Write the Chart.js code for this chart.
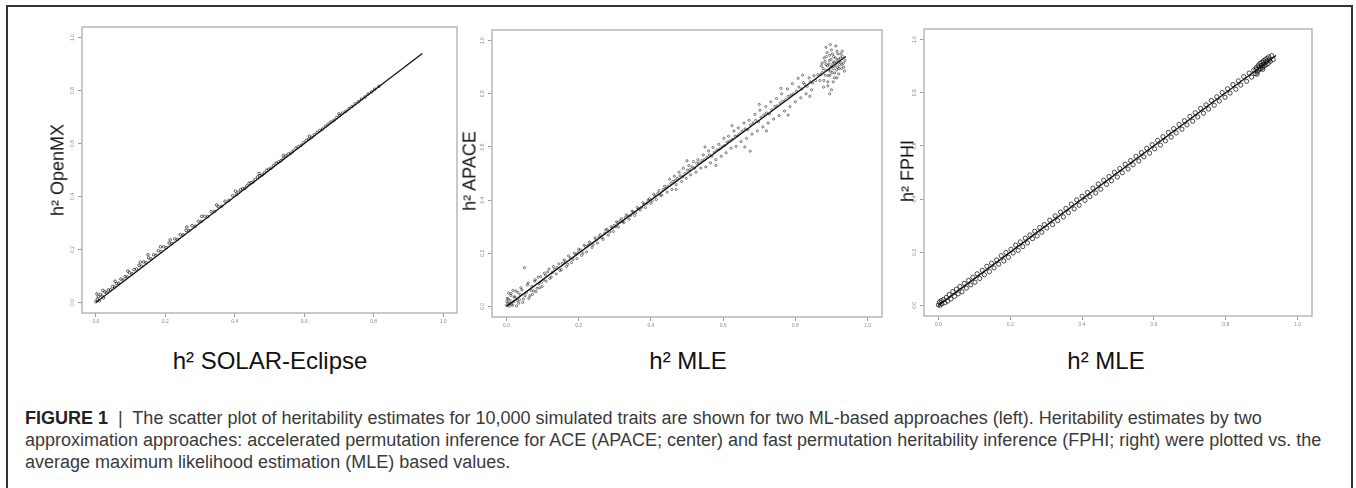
<!DOCTYPE html>
<html>
<head>
<meta charset="utf-8">
<script src="https://cdn.jsdelivr.net/npm/chart.js@4.4.0/dist/chart.umd.min.js"></script>
<style>
  body { margin: 0; background: #fff; font-family: "Liberation Sans", Arial, sans-serif; }
  #fig { position: relative; width: 1356px; height: 488px; overflow: hidden; }
  #frame { position: absolute; left: 6px; top: 5px; width: 1347px; height: 500px; border: 2px solid #333; border-bottom: none; box-sizing: border-box; }
  canvas { position: absolute; }
  .ytitle { position: absolute; font-size: 18px; color: #111; white-space: nowrap; transform: translate(-50%, -50%) rotate(-90deg); }
  .xtitle { position: absolute; font-size: 24px; color: #111; white-space: nowrap; transform: translate(-50%, -50%); }
  #caption { position: absolute; left: 25px; top: 407px; font-size: 18px; line-height: 22px; color: #3a3a3a; white-space: nowrap; }
  #caption b { color: #222; }
</style>
</head>
<body>
<div id="fig">
  <div id="frame"></div>

  <canvas id="openmxChart"></canvas>
  <canvas id="apaceChart"></canvas>
  <canvas id="fphiChart"></canvas>

  <div class="ytitle" style="left:58px; top:170px;">h² OpenMX</div>
  <div class="ytitle" style="left:470px; top:171px;">h² APACE</div>
  <div class="ytitle" style="left:908px; top:171px;">h² FPHI</div>

  <div class="xtitle" style="left:270px; top:361px;">h² SOLAR-Eclipse</div>
  <div class="xtitle" style="left:688px; top:361px;">h² MLE</div>
  <div class="xtitle" style="left:1106px; top:361px;">h² MLE</div>

  <div id="caption"><b>FIGURE 1</b>&nbsp; |&nbsp; The scatter plot of heritability estimates for 10,000 simulated traits are shown for two ML-based approaches (left). Heritability estimates by two<br>approximation approaches: accelerated permutation inference for ACE (APACE; center) and fast permutation heritability inference (FPHI; right) were plotted vs. the<br>average maximum likelihood estimation (MLE) based values.</div>
</div>

<script>
// Axis ticks shared by all three panels
const tickValues = [0, 0.2, 0.4, 0.6, 0.8, 1.0];

// Fitted line end points (same for every panel)
const lineX = [0, 0.94];
const lineY = [0, 0.94];

// Left panel: OpenMX vs SOLAR-Eclipse
const openmxPts = [
  [0.000,0.003],[0.004,0.012],[0.007,0.021],[0.010,0.006],[0.013,0.030],[0.018,0.024],[0.022,0.017],[0.026,0.040],
  [0.031,0.036],[0.036,0.047],[0.042,0.048],[0.048,0.060],[0.054,0.058],[0.060,0.071],[0.066,0.073],[0.072,0.088],
  [0.078,0.084],[0.084,0.097],[0.090,0.096],[0.097,0.112],[0.104,0.108],[0.110,0.124],[0.117,0.126],[0.124,0.140],
  [0.131,0.137],[0.138,0.153],[0.145,0.150],[0.152,0.168],[0.159,0.164],[0.166,0.180],[0.173,0.178],[0.180,0.195],
  [0.188,0.192],[0.195,0.210],[0.203,0.207],[0.211,0.224],[0.219,0.222],[0.227,0.240],[0.235,0.238],[0.243,0.256],
  [0.251,0.255],[0.260,0.272],[0.268,0.271],[0.277,0.290],[0.286,0.288],[0.295,0.306],[0.304,0.306],[0.313,0.325],
  [0.322,0.324],[0.332,0.343],[0.342,0.344],[0.352,0.362],[0.362,0.363],[0.372,0.382],[0.383,0.385],[0.394,0.403],
  [0.405,0.407],[0.417,0.426],[0.429,0.431],[0.441,0.450],[0.453,0.455],[0.466,0.474],[0.479,0.481],[0.492,0.499],
  [0.505,0.507],[0.519,0.526],[0.533,0.535],[0.547,0.553],[0.561,0.563],[0.576,0.582],[0.591,0.593],[0.606,0.611],
  [0.621,0.623],[0.637,0.642],[0.653,0.655],[0.669,0.673],[0.686,0.688],[0.703,0.706],[0.720,0.722],[0.738,0.740],
  [0.756,0.758],[0.775,0.776],[0.794,0.795],
  [0.411,0.416],[0.423,0.429],[0.435,0.440],[0.447,0.452],[0.459,0.465],[0.472,0.478],[0.485,0.489],[0.498,0.503],
  [0.512,0.517],[0.526,0.530],[0.540,0.544],[0.554,0.560],[0.568,0.572],[0.583,0.588],[0.598,0.603],[0.613,0.617],
  [0.629,0.633],[0.645,0.649],[0.661,0.665],[0.677,0.681],[0.694,0.698],[0.711,0.715],[0.729,0.732],[0.747,0.750],
  [0.765,0.768],[0.784,0.787],[0.803,0.805],[0.815,0.816],
  [0.003,0.032],[0.020,0.045],[0.055,0.080],[0.092,0.118],[0.128,0.152],[0.150,0.180],[0.186,0.210],[0.214,0.236],
  [0.262,0.285],[0.305,0.325],[0.348,0.368],[0.402,0.420],[0.470,0.487],[0.540,0.555],[0.615,0.628],[0.700,0.712]
];

// Centre panel: APACE vs MLE
const apacePts = [
  [0.000,0.004],[0.002,0.030],[0.004,0.012],[0.006,0.050],[0.008,0.000],[0.010,0.022],[0.012,0.041],[0.015,0.008],
  [0.018,0.060],[0.020,0.018],[0.024,0.035],[0.028,0.002],[0.032,0.052],[0.036,0.025],[0.040,0.070],[0.045,0.015],
  [0.050,0.146],[0.052,0.040],[0.058,0.080],[0.062,0.030],[0.068,0.060],[0.072,0.045],[0.078,0.095],[0.082,0.055],
  [0.088,0.110],[0.092,0.070],[0.097,0.090],
  [0.105,0.125],[0.110,0.095],[0.118,0.140],[0.124,0.110],[0.130,0.150],[0.138,0.122],[0.145,0.160],[0.152,0.138],
  [0.160,0.175],[0.166,0.150],[0.172,0.190],[0.180,0.165],[0.188,0.200],[0.195,0.180],[0.200,0.215],[0.208,0.192],
  [0.215,0.230],[0.222,0.205],[0.230,0.242],[0.237,0.222],[0.245,0.258],[0.252,0.238],[0.260,0.270],[0.268,0.252],
  [0.275,0.288],[0.282,0.268],[0.290,0.300],[0.296,0.282],
  [0.305,0.318],[0.310,0.298],[0.318,0.330],[0.325,0.315],[0.332,0.345],[0.340,0.328],[0.348,0.358],[0.355,0.342],
  [0.362,0.372],[0.370,0.362],[0.378,0.390],[0.385,0.372],[0.392,0.400],[0.400,0.388],[0.408,0.422],[0.415,0.402],
  [0.422,0.436],[0.430,0.418],[0.438,0.452],[0.445,0.430],
  [0.452,0.478],[0.458,0.440],[0.465,0.490],[0.470,0.458],[0.478,0.505],[0.485,0.470],[0.490,0.520],[0.498,0.482],
  [0.505,0.530],[0.510,0.495],[0.518,0.545],[0.525,0.505],[0.530,0.552],[0.538,0.520],[0.545,0.570],[0.552,0.525],
  [0.560,0.585],[0.565,0.540],[0.572,0.598],[0.580,0.552],[0.588,0.610],[0.595,0.565],
  [0.602,0.632],[0.608,0.578],[0.615,0.640],[0.622,0.595],[0.630,0.660],[0.636,0.602],[0.642,0.672],[0.650,0.620],
  [0.658,0.690],[0.665,0.632],[0.672,0.700],[0.675,0.584],[0.680,0.648],[0.688,0.722],[0.695,0.660],[0.702,0.738],
  [0.710,0.675],[0.718,0.752],[0.725,0.690],[0.732,0.770],[0.740,0.705],[0.748,0.782],[0.755,0.718],[0.762,0.800],
  [0.770,0.735],[0.778,0.818],[0.785,0.752],[0.792,0.838],[0.800,0.770],[0.808,0.858],[0.815,0.785],[0.822,0.842],
  [0.830,0.800],[0.838,0.860],[0.845,0.815],[0.852,0.868],
  [0.868,0.850],[0.872,0.905],[0.875,0.880],[0.878,0.825],[0.880,0.935],[0.883,0.870],[0.885,0.910],[0.888,0.955],
  [0.890,0.845],[0.892,0.890],[0.894,0.925],[0.896,0.870],[0.898,0.900],[0.900,0.965],[0.902,0.880],[0.904,0.915],
  [0.906,0.940],[0.908,0.860],[0.910,0.905],[0.912,0.980],[0.914,0.890],[0.916,0.925],[0.918,0.950],[0.920,0.875],
  [0.922,0.910],[0.925,0.935],[0.928,0.895],[0.930,0.960],[0.933,0.915],[0.936,0.885],[0.900,0.815],[0.895,0.800],
  // second pass, filling the cloud
  [0.001,0.018],[0.005,0.028],[0.009,0.010],[0.013,0.048],[0.017,0.004],[0.021,0.036],[0.026,0.058],[0.030,0.022],
  [0.034,0.012],[0.038,0.044],[0.043,0.062],[0.047,0.028],[0.055,0.052],[0.060,0.088],[0.065,0.040],[0.070,0.075],
  [0.075,0.058],[0.080,0.100],[0.085,0.068],[0.090,0.085],[0.095,0.112],[0.099,0.075],
  [0.103,0.100],[0.108,0.118],[0.114,0.130],[0.120,0.105],[0.127,0.128],[0.133,0.140],[0.140,0.146],[0.148,0.135],
  [0.155,0.162],[0.163,0.168],[0.170,0.158],[0.177,0.182],[0.184,0.176],[0.192,0.195],[0.198,0.202],[0.205,0.212],
  [0.212,0.200],[0.219,0.225],[0.226,0.230],[0.233,0.236],[0.240,0.232],[0.248,0.250],[0.256,0.262],[0.264,0.258],
  [0.272,0.275],[0.279,0.290],[0.286,0.280],[0.293,0.296],[0.299,0.305],
  [0.302,0.300],[0.308,0.315],[0.315,0.322],[0.322,0.318],[0.329,0.334],[0.336,0.340],[0.344,0.342],[0.351,0.356],
  [0.358,0.352],[0.366,0.368],[0.374,0.372],[0.381,0.384],[0.389,0.388],[0.396,0.405],[0.404,0.398],[0.411,0.415],
  [0.419,0.425],[0.426,0.418],[0.434,0.440],[0.441,0.445],[0.448,0.452],
  [0.455,0.462],[0.461,0.470],[0.468,0.475],[0.474,0.482],[0.481,0.492],[0.488,0.488],[0.494,0.500],[0.501,0.512],
  [0.508,0.515],[0.514,0.525],[0.521,0.520],[0.527,0.538],[0.534,0.540],[0.541,0.548],[0.548,0.552],[0.555,0.560],
  [0.562,0.570],[0.569,0.565],[0.576,0.580],[0.583,0.588],[0.590,0.592],[0.597,0.600],
  [0.604,0.605],[0.611,0.618],[0.618,0.622],[0.625,0.628],[0.633,0.640],[0.640,0.642],[0.646,0.650],[0.653,0.660],
  [0.661,0.668],[0.668,0.665],[0.676,0.682],[0.683,0.690],[0.690,0.700],[0.698,0.695],[0.705,0.712],[0.713,0.720],
  [0.720,0.728],[0.728,0.724],[0.735,0.740],[0.743,0.752],[0.750,0.755],[0.758,0.765],[0.765,0.772],[0.773,0.778],
  [0.780,0.790],[0.788,0.795],[0.795,0.800],[0.803,0.810],[0.810,0.825],[0.818,0.818],[0.826,0.835],[0.833,0.828],
  [0.841,0.845],[0.848,0.840],[0.856,0.850],[0.862,0.872],
  [0.870,0.872],[0.874,0.915],[0.877,0.895],[0.879,0.850],[0.882,0.922],[0.884,0.888],[0.886,0.940],[0.889,0.905],
  [0.891,0.868],[0.893,0.912],[0.895,0.945],[0.897,0.885],[0.899,0.930],[0.901,0.905],[0.903,0.950],[0.905,0.895],
  [0.907,0.920],[0.909,0.878],[0.911,0.935],[0.913,0.915],[0.915,0.960],[0.917,0.900],[0.919,0.930],[0.921,0.895],
  [0.924,0.920],[0.926,0.950],[0.929,0.910],[0.931,0.940],[0.934,0.900],[0.938,0.925],[0.890,0.830],[0.905,0.845],
  [0.915,0.860],[0.885,0.975],[0.897,0.985],
  [0.625,0.680],[0.660,0.600],[0.700,0.760],[0.720,0.660],[0.760,0.820],[0.780,0.720],[0.820,0.870],[0.840,0.790],
  [0.550,0.600],[0.580,0.530],[0.500,0.548],[0.470,0.440]
];

// Right panel: FPHI vs MLE
const fphiPts = [
  [0.000,0.002],[0.003,0.012],[0.005,0.000],[0.008,0.018],[0.010,0.006],[0.014,0.022],[0.018,0.010],[0.022,0.030],
  [0.026,0.016],[0.030,0.041],[0.035,0.024],[0.040,0.052],[0.045,0.034],[0.050,0.061],[0.055,0.043],[0.060,0.071],
  [0.066,0.051],[0.072,0.083],[0.078,0.065],[0.084,0.094],[0.090,0.077],[0.096,0.106],[0.102,0.087],[0.108,0.119],
  [0.115,0.101],[0.122,0.132],[0.128,0.115],[0.135,0.147],[0.142,0.127],[0.148,0.159],[0.155,0.141],[0.162,0.171],
  [0.168,0.155],[0.175,0.187],[0.182,0.167],[0.188,0.199],[0.195,0.181],[0.202,0.211],[0.208,0.197],[0.215,0.227],
  [0.222,0.207],[0.228,0.239],[0.235,0.221],[0.242,0.253],[0.248,0.235],[0.255,0.265],[0.262,0.251],[0.268,0.279],
  [0.275,0.261],[0.282,0.293],[0.288,0.275],[0.295,0.304],[0.302,0.291],[0.310,0.321],[0.318,0.304],[0.325,0.337],
  [0.332,0.319],[0.340,0.351],[0.348,0.333],[0.355,0.365],[0.362,0.349],[0.370,0.381],[0.378,0.363],[0.385,0.397],
  [0.392,0.377],[0.400,0.411],[0.408,0.395],[0.415,0.425],[0.422,0.409],[0.430,0.441],[0.438,0.423],[0.445,0.457],
  [0.452,0.437],[0.460,0.471],[0.468,0.455],[0.475,0.485],[0.482,0.469],[0.490,0.501],[0.498,0.483],[0.505,0.515],
  [0.512,0.499],[0.520,0.531],[0.528,0.513],[0.535,0.545],[0.542,0.529],[0.550,0.561],[0.558,0.543],[0.565,0.575],
  [0.572,0.559],[0.580,0.591],[0.588,0.573],[0.595,0.605],[0.602,0.589],[0.610,0.621],[0.618,0.603],[0.625,0.635],
  [0.632,0.619],[0.640,0.651],[0.648,0.633],[0.655,0.665],[0.662,0.649],[0.670,0.681],[0.678,0.663],[0.685,0.695],
  [0.692,0.679],[0.700,0.711],[0.708,0.693],[0.715,0.725],[0.722,0.709],[0.730,0.741],[0.738,0.723],[0.745,0.755],
  [0.752,0.739],[0.760,0.771],[0.768,0.753],[0.775,0.785],[0.782,0.769],[0.790,0.801],[0.798,0.783],[0.805,0.815],
  [0.812,0.799],[0.820,0.831],[0.828,0.813],[0.835,0.845],[0.842,0.829],[0.850,0.861],[0.858,0.843],[0.865,0.874],
  [0.872,0.859],
  [0.878,0.885],[0.882,0.872],[0.885,0.895],[0.888,0.878],[0.890,0.902],[0.892,0.886],[0.895,0.910],[0.897,0.890],
  [0.900,0.915],[0.902,0.895],[0.905,0.920],[0.907,0.900],[0.910,0.925],[0.912,0.905],[0.915,0.930],[0.918,0.910],
  [0.920,0.935],[0.924,0.918],[0.928,0.940],[0.932,0.925],
  [0.884,0.888],[0.893,0.897],[0.899,0.903],[0.906,0.909],[0.913,0.917],[0.921,0.924],[0.887,0.870],[0.903,0.888]
];

// Plot boxes on the page: [left, top, right, bottom]
const openmxBox = [82, 27, 457, 313];
const apaceBox = [492, 30, 882, 317];
const fphiBox = [924, 29, 1312, 316];

// Grey frame around each plot region (R style box)
const plotBox = {
  id: "plotBox",
  afterDraw(chart) {
    const a = chart.chartArea;
    const ctx = chart.ctx;
    ctx.save();
    ctx.strokeStyle = "#b8b8b8";
    ctx.lineWidth = 1.5;
    ctx.strokeRect(a.left, a.top, a.right - a.left, a.bottom - a.top);
    ctx.restore();
  },
};

function axisOptions(dir) {
  const isY = dir === "y";
  return {
    type: "linear",
    min: -0.04,
    max: 1.04,
    afterBuildTicks: (scale) => {
      scale.ticks = tickValues.map((v) => ({ value: v }));
    },
    afterFit: (scale) => {
      if (isY) scale.width = 40;
      else scale.height = 24;
    },
    grid: {
      drawOnChartArea: false,
      drawTicks: true,
      tickLength: 4,
      color: "#9c9c9c",
    },
    border: { display: false },
    ticks: {
      autoSkip: false,
      font: { size: 5, family: "Liberation Sans" },
      color: "#8a8a8a",
      padding: 2,
      minRotation: isY ? 90 : 0,
      maxRotation: isY ? 90 : 0,
      crossAlign: isY ? "center" : "near",
      callback: (v) => Number(v).toFixed(1),
    },
  };
}

function makePanel(id, box, pts, dot) {
  const canvas = document.getElementById(id);
  const w = box[2] - box[0] + 52;
  const h = box[3] - box[1] + 36;
  canvas.width = w;
  canvas.height = h;
  canvas.style.left = box[0] - 40 + "px";
  canvas.style.top = box[1] - 12 + "px";
  canvas.style.width = w + "px";
  canvas.style.height = h + "px";

  return new Chart(canvas, {
    type: "scatter",
    data: {
      datasets: [
        {
          data: lineX.map((x, i) => ({ x: x, y: lineY[i] })),
          showLine: true,
          borderColor: "#111",
          borderWidth: 1.3,
          pointRadius: 0,
          order: 0,
        },
        {
          data: pts.map((p) => ({ x: p[0], y: p[1] })),
          pointRadius: dot.radius,
          pointBorderWidth: dot.width,
          pointBorderColor: dot.color,
          pointBackgroundColor: "rgba(0,0,0,0)",
          order: 1,
        },
      ],
    },
    options: {
      responsive: false,
      animation: false,
      events: [],
      layout: { padding: { left: 0, top: 12, right: 12, bottom: 0 } },
      plugins: {
        legend: { display: false },
        tooltip: { enabled: false },
      },
      scales: {
        x: axisOptions("x"),
        y: axisOptions("y"),
      },
    },
    plugins: [plotBox],
  });
}

makePanel("openmxChart", openmxBox, openmxPts, { radius: 1.3, width: 0.9, color: "rgba(25,25,25,0.75)" });
makePanel("apaceChart", apaceBox, apacePts, { radius: 1.1, width: 0.75, color: "rgba(15,15,15,0.7)" });
makePanel("fphiChart", fphiBox, fphiPts, { radius: 2.1, width: 0.9, color: "rgba(10,10,10,0.8)" });
</script>
</body>
</html>
